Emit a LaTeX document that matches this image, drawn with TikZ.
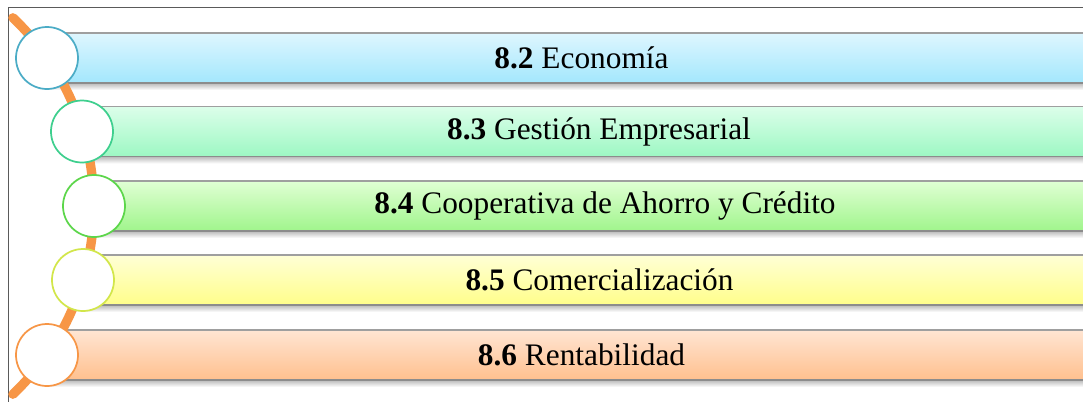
\documentclass[tikz,border=0pt]{standalone}
\usepackage{fontspec}
\setmainfont{Liberation Serif}
\definecolor{arcor}{HTML}{F79646}
\definecolor{frm}{HTML}{5A5A5A}
\definecolor{cA}{HTML}{4BACC6}\definecolor{tA}{HTML}{DEF6FE}\definecolor{bA}{HTML}{A3E7FD}
\definecolor{cB}{HTML}{3ECF8E}\definecolor{tB}{HTML}{DCFEEA}\definecolor{bB}{HTML}{9DF8C3}
\definecolor{cC}{HTML}{5CD64A}\definecolor{tC}{HTML}{E0FFD4}\definecolor{bC}{HTML}{A0F58C}
\definecolor{cD}{HTML}{D2E64A}\definecolor{tD}{HTML}{FFFFD6}\definecolor{bD}{HTML}{FFFE8A}
\definecolor{cE}{HTML}{F79646}\definecolor{tE}{HTML}{FFE5D3}\definecolor{bE}{HTML}{FFC08E}
\tikzset{
  barbox/.style={rectangle, minimum height=37.5pt, inner sep=0pt, outer sep=0pt},
  ring/.style={circle, fill=white, line width=1.3pt, minimum size=46.5pt, inner sep=0pt},
  lbl/.style={font=\fontsize{23.5pt}{27pt}\selectfont, text=black},
}
\newcommand{\rowbar}[5]{% name, cx, cy, top colour, bottom colour
  \shade[top color=gray!55, bottom color=white] (#2,#3+25) rectangle (1116,#3+32);
  \shade[top color=#4, bottom color=#5] (#2,#3-25) rectangle (1116,#3+25);
  \draw[gray!75, line width=1pt] (#2,#3-25) -- (1116,#3-25);
  \draw[gray!110!black, line width=1.2pt] (#2,#3+25) -- (1116,#3+25);
  \node[barbox, minimum width={(1116-#2)*0.75pt}, anchor=west] (#1) at (#2,#3) {};
}
\begin{document}
\begin{tikzpicture}[x=0.75pt, y=-0.75pt]
\useasboundingbox (0,0) rectangle (1083,401);
\clip (0,0) rectangle (1083,401);
\fill[white] (0,0) rectangle (1083,401);
\draw[frm, line width=1.4pt] (8.5,420) -- (8.5,7.5) -- (1100,7.5);
\rowbar{b1}{47}{58}{tA}{bA}
\rowbar{b2}{82}{131.5}{tB}{bB}
\rowbar{b3}{94}{206}{tC}{bC}
\rowbar{b4}{83}{280}{tD}{bD}
\rowbar{b5}{47}{355}{tE}{bE}
\node[lbl] (t1) at (b1) {\textbf{8.2} Economía};
\node[lbl] (t2) at (b2) {\textbf{8.3} Gestión Empresarial};
\node[lbl] (t3) at (b3) {\textbf{8.4} Cooperativa de Ahorro y Crédito};
\node[lbl] (t4) at (b4) {\textbf{8.5} Comercialización};
\node[lbl] (t5) at (b5) {\textbf{8.6} Rentabilidad};
\coordinate (ctr) at (-165.7,206);
\draw[arcor, line width=7pt, line cap=round] (ctr) ++(46.5:259.5) arc[start angle=46.5, end angle=-46.5, radius=259.5];
\node[ring, draw=cA] (c1) at (47,58) {};
\node[ring, draw=cB] (c2) at (82,131.5) {};
\node[ring, draw=cC] (c3) at (94,206) {};
\node[ring, draw=cD] (c4) at (83,280) {};
\node[ring, draw=cE] (c5) at (47,355) {};
\end{tikzpicture}
\end{document}
